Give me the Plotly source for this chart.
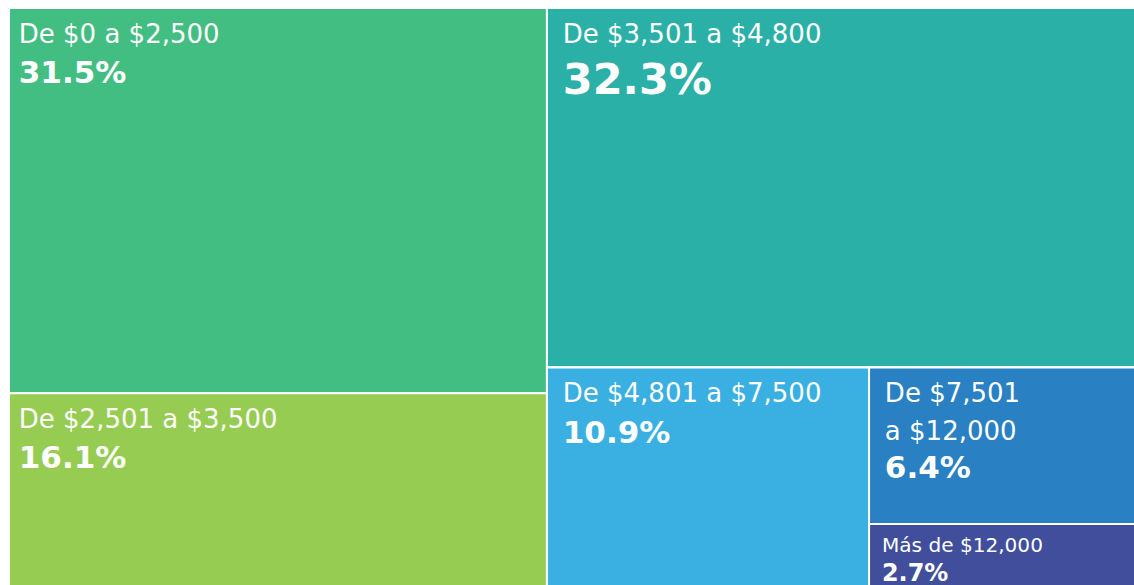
import plotly.graph_objects as go

# Data
categories = ["De $0 a $2,500", "De $2,501 a $3,500", "De $3,501 a $4,800",
              "De $4,801 a $7,500", "De $7,501 a $12,000", "Más de $12,000"]
display_labels = ["De $0 a $2,500", "De $2,501 a $3,500", "De $3,501 a $4,800",
                  "De $4,801 a $7,500", "De $7,501<br>a $12,000", "Más de $12,000"]
percentages = [31.5, 16.1, 32.3, 10.9, 6.4, 2.7]
colors = ["#43BE82", "#97CC52", "#2BB0A8", "#3AB0E2", "#2980C3", "#404E9C"]

# Layout grouping (invisible intermediate nodes used to reproduce the arrangement)
groups = ["L", "L", "R", "C", "D", "D"]
group_ids = ["L", "R", "C", "D"]
group_parents = ["", "", "R", "C"]

# Text styling per leaf
label_size = 26
pct_sizes = [31, 31, 43, 31, 31, 31]
line_bases = [31, 31, 39, 31, 29, 29]
indent = [0, 0, 1, 1, 1, 1]
SP = "<span style='font-size:34px'>\u2009</span>"
SP2 = "<span style='font-size:30px'>\u2009</span>"


def leaf_text(lab, p, s, ind):
    pre = SP + (SP2 if ind else "")
    lines = [f"{pre}<span style='font-size:{label_size}px'>{part}</span>"
             for part in lab.split("<br>")]
    lines.append(f"{pre}<b><span style='font-size:{s}px'>{p:.1f}%</span></b>")
    return "<br>".join(lines)


ids = [f"leaf{i}" for i in range(len(categories))] + group_ids
labels = categories + group_ids
parents = groups + group_parents
values = percentages + [0] * len(group_ids)
texts = [leaf_text(l, p, s, i) for l, p, s, i in
         zip(display_labels, percentages, pct_sizes, indent)] + [""] * len(group_ids)
node_colors = colors + ["#FFFFFF"] * len(group_ids)
font_sizes = line_bases + [20] * len(group_ids)

fig = go.Figure(go.Treemap(
    ids=ids,
    labels=labels,
    parents=parents,
    values=values,
    branchvalues="remainder",
    sort=False,
    text=texts,
    texttemplate="%{text}",
    textposition="top left",
    textfont=dict(family="DejaVu Sans", color="white", size=font_sizes),
    marker=dict(colors=node_colors, line=dict(color="white", width=2),
                pad=dict(t=0, l=0, r=0, b=0)),
    tiling=dict(packing="slice-dice", pad=0),
    pathbar=dict(visible=False),
    hovertemplate="%{label}: %{value}%<extra></extra>",
))

fig.update_layout(
    width=1138, height=590,
    margin=dict(l=9, r=0, t=8, b=0),
    paper_bgcolor="white",
    font=dict(family="DejaVu Sans"),
)

post = ("document.documentElement.style.overflow='hidden';"
        "document.body.style.margin='0px';"
        "document.body.style.overflow='hidden';")

fig.write_html("out.html", config={"responsive": False, "displayModeBar": False},
               post_script=post)
